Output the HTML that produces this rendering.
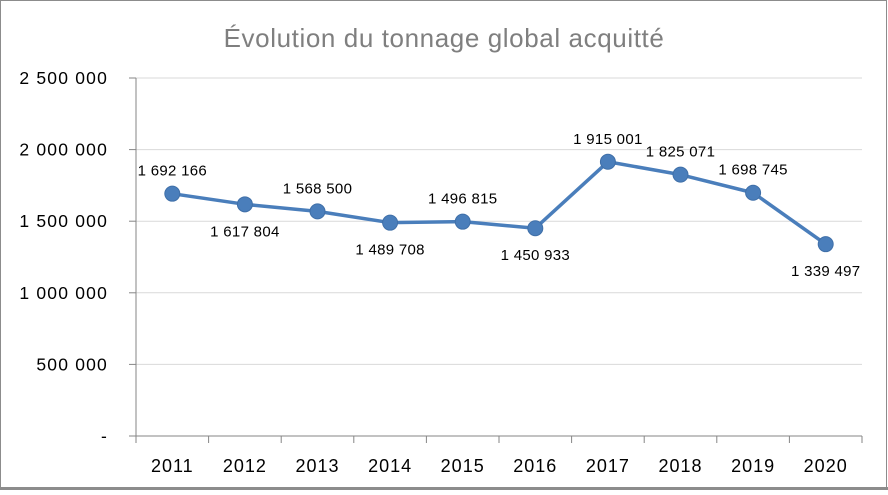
<!DOCTYPE html>
<html><head><meta charset="utf-8"><style>
body{margin:0;background:#fff}
svg text{font-family:"Liberation Sans","DejaVu Sans",sans-serif}
</style></head><body>
<svg width="888" height="490" id="c">
<rect x="0.5" y="0.5" width="886" height="487" fill="#fff" stroke="#8c8c8c"/>
<rect x="0" y="487" width="888" height="3" fill="#8c8c8c"/>
<text x="444" y="47" text-anchor="middle" font-size="26" letter-spacing="0.6" fill="#7f7f7f">Évolution du tonnage global acquitté</text>
</svg>
<script>
const categories=["2011","2012","2013","2014","2015","2016","2017","2018","2019","2020"];
const values=[1692166,1617804,1568500,1489708,1496815,1450933,1915001,1825071,1698745,1339497];
const labelBelow=[false,true,false,true,false,true,false,false,false,true];
const yTicks=[0,500000,1000000,1500000,2000000,2500000];
const yTickLabels=["-","500 000","1 000 000","1 500 000","2 000 000","2 500 000"];
const valueLabels=["1 692 166","1 617 804","1 568 500","1 489 708","1 496 815","1 450 933","1 915 001","1 825 071","1 698 745","1 339 497"];
const svg=document.getElementById('c');const NS='http://www.w3.org/2000/svg';
const L=136,R=862,T=78,B=436,yMax=2500000;
const bw=(R-L)/categories.length;
const x=i=>L+bw*(i+0.5);
const y=v=>B-(v/yMax)*(B-T);
function mk(t,a){const e=document.createElementNS(NS,t);for(const k in a)e.setAttribute(k,a[k]);svg.appendChild(e);return e;}
yTicks.forEach((v,i)=>{
 if(v>0){const g=mk('line',{x1:L,x2:R,y1:y(v),y2:y(v),stroke:'#d9d9d9'});
 
 }
 const tk=mk('line',{x1:L-7,x2:L,y1:y(v),y2:y(v),stroke:'#868686'});
 
 
 const t=mk('text',{x:108,y:y(v)+6,'text-anchor':'end','font-size':17.5,'letter-spacing':1.2,fill:'#000'});t.textContent=yTickLabels[i];
 
 
});
const ya=mk('line',{x1:L,x2:L,y1:T,y2:B,stroke:'#868686'});


const xa=mk('line',{x1:L,x2:R,y1:B,y2:B,stroke:'#868686'});


for(let i=0;i<=categories.length;i++){const tk=mk('line',{x1:L+bw*i,x2:L+bw*i,y1:B,y2:B+7,stroke:'#868686'});
 
 }
categories.forEach((c,i)=>{const t=mk('text',{x:x(i),y:472,'text-anchor':'middle','font-size':18,'letter-spacing':1,fill:'#000'});t.textContent=c;
 
 });
const line=mk('polyline',{points:values.map((v,i)=>x(i)+','+y(v)).join(' '),fill:'none',stroke:'#4a7ebb','stroke-width':3.5,'stroke-linejoin':'round'});


values.forEach((v,i)=>{
 const p=mk('circle',{cx:x(i),cy:y(v),r:7.5,fill:'#4a7ebb',stroke:'#3f6fa8','stroke-width':1});
 
 
 const t=mk('text',{x:x(i),y:y(v)+(labelBelow[i]?32:-18),'text-anchor':'middle','font-size':15,'letter-spacing':0.3,fill:'#000'});t.textContent=valueLabels[i];
 
 
});
</script>
</body></html>
